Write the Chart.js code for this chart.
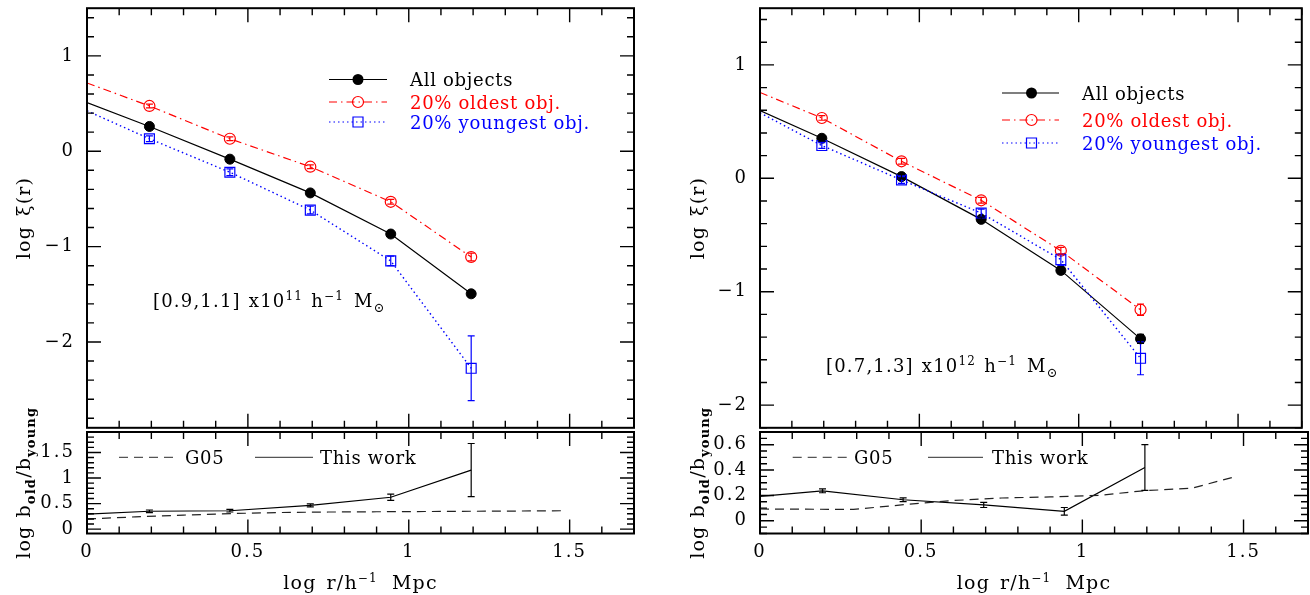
<!DOCTYPE html>
<html>
<head>
<meta charset="utf-8">
<script src="https://cdn.jsdelivr.net/npm/chart.js@4.4.0/dist/chart.umd.min.js"></script>
<style>
  body { margin: 0; background: #fff; width: 1310px; height: 595px; overflow: hidden; position: relative; }
  canvas { position: absolute; }
</style>
</head>
<body>
<canvas id="ul" width="655" height="436" style="left:0;top:0"></canvas>
<canvas id="ur" width="655" height="436" style="left:655px;top:0"></canvas>
<canvas id="ll" width="655" height="195" style="left:0;top:400px"></canvas>
<canvas id="lr" width="655" height="195" style="left:655px;top:400px"></canvas>
<script>
// radial bins (log r), first entry is where the curves start at the axis
const rBins = [0, 0.194, 0.444, 0.694, 0.944, 1.194];

// left panel: [0.9,1.1] x10^11
const leftAll = [0.51, 0.26, -0.083, -0.437, -0.868, -1.495];
const leftAllErr = [0, 0.01, 0.015, 0.02, 0.02, 0.03];
const leftOld = [0.716, 0.475, 0.131, -0.162, -0.53, -1.109];
const leftOldErr = [0, 0.02, 0.02, 0.02, 0.025, 0.04];
const leftYoung = [0.424, 0.131, -0.22, -0.617, -1.15, -2.276];
const leftYoungErr = [0, 0.03, 0.035, 0.04, 0.05, 0.34];
const leftRatio = [0.295, 0.35, 0.36, 0.466, 0.624, 1.155];
const leftRatioErr = [0, 0.025, 0.025, 0.03, 0.06, 0.52];
const leftG05R = [0, 0.15, 0.3, 0.45, 0.6, 0.75, 0.9, 1.05, 1.2, 1.35, 1.48];
const leftG05 = [0.2, 0.24, 0.275, 0.305, 0.325, 0.335, 0.34, 0.345, 0.35, 0.355, 0.36];

// right panel: [0.7,1.3] x10^12
const rightAll = [0.598, 0.353, 0.015, -0.362, -0.812, -1.416];
const rightAllErr = [0, 0.02, 0.02, 0.02, 0.03, 0.04];
const rightOld = [0.757, 0.532, 0.15, -0.194, -0.639, -1.159];
const rightOldErr = [0, 0.02, 0.025, 0.025, 0.03, 0.05];
const rightYoung = [0.578, 0.289, -0.015, -0.306, -0.717, -1.587];
const rightYoungErr = [0, 0.025, 0.03, 0.035, 0.05, 0.145];
const rightRatio = [0.192, 0.236, 0.166, 0.125, 0.075, 0.42];
const rightRatioErr = [0, 0.015, 0.015, 0.02, 0.03, 0.18];
const rightG05R = [0, 0.29, 0.45, 0.6, 0.75, 0.9, 1.05, 1.19, 1.34, 1.47];
const rightG05 = [0.093, 0.09, 0.128, 0.16, 0.18, 0.188, 0.2, 0.237, 0.257, 0.345];

// tick labels
const xLabels = [0, 0.5, 1, 1.5];
const upperYLabels = [-2, -1, 0, 1];
const leftRatioLabels = [0, 0.5, 1, 1.5];
const rightRatioLabels = [0, 0.2, 0.4, 0.6];

const FONT = "'DejaVu Serif', serif";
const RED = '#ff0000', BLUE = '#0000ff';
const DASHDOT = [8, 4, 1.5, 4], DOTTED = [1.5, 3], DASHED = [9, 6];

function pts(xs, ys) { return xs.map((x, i) => ({ x: x, y: ys[i] })); }
function markR(r) { return c => (c.dataIndex === 0 ? 0 : r); }
function fmt(v) { return v < 0 ? '\u2212' + Math.abs(v) : String(v); }

function fontOf(p) { return (p.bold ? 'bold ' : '') + (p.size || 18) + 'px ' + FONT; }
function partsWidth(ctx, parts) {
  let w = 0;
  parts.forEach(p => {
    if (p.gap) { w += p.gap; return; }
    ctx.font = fontOf(p);
    w += ctx.measureText(p.t).width;
  });
  return w;
}
// draws text made of pieces (for super/subscripts); y is the visual middle of the main text
function drawParts(ctx, parts, x, y, opt) {
  opt = opt || {};
  ctx.save();
  ctx.letterSpacing = (opt.spacing || 0.7) + 'px';
  ctx.translate(x, y);
  if (opt.rotate) ctx.rotate(opt.rotate);
  let cx = opt.center ? -partsWidth(ctx, parts) / 2 : 0;
  ctx.textAlign = 'left';
  ctx.textBaseline = 'alphabetic';
  ctx.fillStyle = opt.color || '#000';
  parts.forEach(p => {
    if (p.gap) { cx += p.gap; return; }
    ctx.font = fontOf(p);
    ctx.fillText(p.t, cx, 6.5 + (p.dy || 0));
    cx += ctx.measureText(p.t).width;
  });
  ctx.restore();
}

function tickVals(min, max, step) {
  const out = [];
  for (let k = Math.ceil(min / step - 1e-6); k * step <= max + 1e-9; k++) out.push(+(k * step).toFixed(6));
  return out;
}
function isMajor(v, major) { return Math.abs(v / major - Math.round(v / major)) < 1e-6; }

function drawMarker(ctx, type, x, y, color) {
  ctx.save();
  ctx.setLineDash([]);
  ctx.strokeStyle = color; ctx.fillStyle = color; ctx.lineWidth = 1.2;
  ctx.beginPath();
  if (type === 'dot') { ctx.arc(x, y, 5.5, 0, Math.PI * 2); ctx.fill(); }
  else if (type === 'circle') { ctx.arc(x, y, 5.5, 0, Math.PI * 2); ctx.stroke(); }
  else if (type === 'square') { ctx.rect(x - 5, y - 5, 10, 10); ctx.stroke(); }
  ctx.restore();
}

function noPad(s) { s.paddingTop = 0; s.paddingBottom = 0; s.paddingLeft = 0; s.paddingRight = 0; }

const framePlugin = {
  id: 'frame',
  beforeDraw(chart) { chart.ctx.letterSpacing = '2px'; },
  afterDatasetsDraw(chart) {
    const { ctx, chartArea: a, scales: { x, y } } = chart;
    ctx.save();
    ctx.beginPath(); ctx.rect(a.left, a.top, a.width, a.height); ctx.clip();
    ctx.setLineDash([]);
    chart.data.datasets.forEach(ds => {
      if (!ds.errors) return;
      ctx.strokeStyle = ds.borderColor; ctx.lineWidth = 1.2;
      ds.data.forEach((p, i) => {
        const e = ds.errors[i];
        if (!e) return;
        const px = x.getPixelForValue(p.x);
        const y1 = y.getPixelForValue(p.y - e), y2 = y.getPixelForValue(p.y + e);
        ctx.beginPath();
        ctx.moveTo(px, y1); ctx.lineTo(px, y2);
        ctx.moveTo(px - 3.5, y1); ctx.lineTo(px + 3.5, y1);
        ctx.moveTo(px - 3.5, y2); ctx.lineTo(px + 3.5, y2);
        ctx.stroke();
      });
    });
    ctx.restore();
  },
  afterDraw(chart, args, o) {
    const { ctx, chartArea: a, scales: { x, y } } = chart;
    ctx.letterSpacing = '0px';
    ctx.save();
    ctx.strokeStyle = '#000';
    ctx.lineWidth = 1.4;
    ctx.beginPath();
    tickVals(x.min, x.max, o.xMinor).forEach(v => {
      const len = isMajor(v, o.xMajor) ? 14 : 7;
      const px = x.getPixelForValue(v);
      ctx.moveTo(px, a.top); ctx.lineTo(px, a.top + len);
      ctx.moveTo(px, a.bottom); ctx.lineTo(px, a.bottom - len);
    });
    tickVals(y.min, y.max, o.yMinor).forEach(v => {
      const len = isMajor(v, o.yMajor) ? 14 : 7;
      const py = y.getPixelForValue(v);
      ctx.moveTo(a.left, py); ctx.lineTo(a.left + len, py);
      ctx.moveTo(a.right, py); ctx.lineTo(a.right - len, py);
    });
    ctx.stroke();
    ctx.lineWidth = 2;
    ctx.strokeRect(a.left, a.top, a.right - a.left, a.bottom - a.top);

    // legend rows
    (o.legend || []).forEach(it => {
      ctx.save();
      ctx.strokeStyle = it.lineColor || it.color;
      ctx.lineWidth = 1.2;
      ctx.setLineDash(it.dash || []);
      ctx.beginPath(); ctx.moveTo(it.x1, it.y); ctx.lineTo(it.x2, it.y); ctx.stroke();
      ctx.restore();
      if (it.marker) drawMarker(ctx, it.marker, it.mx, it.y, it.color);
      drawParts(ctx, [{ t: it.text }], it.tx, it.y, { color: it.color });
    });
    // free texts
    (o.texts || []).forEach(t => drawParts(ctx, t.parts, t.x, t.y, { color: '#000', spacing: 1.2 }));
    // axis titles
    if (o.yTitle) drawParts(ctx, o.yTitle, o.yTitleX, (a.top + a.bottom) / 2, { rotate: -Math.PI / 2, center: true, spacing: 1.2 });
    if (o.xTitle) drawParts(ctx, o.xTitle, (a.left + a.right) / 2, o.xTitleY, { center: true, spacing: 1.2 });
    ctx.restore();
  }
};

function makeChart(id, cfg) {
  return new Chart(document.getElementById(id), {
    type: 'scatter',
    data: { datasets: cfg.datasets },
    options: {
      responsive: false,
      animation: false,
      events: [],
      layout: { padding: cfg.padding },
      plugins: { legend: { display: false }, tooltip: { enabled: false }, frame: cfg.frame },
      scales: {
        x: {
          type: 'linear', min: 0, max: 1.7, display: cfg.showX,
          afterBuildTicks: s => { s.ticks = xLabels.map(v => ({ value: v })); },
          afterFit: s => { s.height = cfg.xHeight; noPad(s); },
          grid: { display: false, drawTicks: false }, border: { display: false },
          ticks: { padding: 8.5, color: '#000', font: { family: FONT, size: 18 }, callback: fmt, maxRotation: 0, autoSkip: false }
        },
        y: {
          type: 'linear', min: cfg.yMin, max: cfg.yMax,
          afterBuildTicks: s => { s.ticks = cfg.yLabels.map(v => ({ value: v })); },
          afterFit: s => { s.width = cfg.yWidth; noPad(s); },
          grid: { display: false, drawTicks: false }, border: { display: false },
          ticks: { padding: 12, color: '#000', font: { family: FONT, size: 18 }, callback: fmt, autoSkip: false }
        }
      }
    },
    plugins: [framePlugin]
  });
}

function upperSets(all, allE, old, oldE, young, youngE) {
  return [
    { data: pts(rBins, young), errors: youngE, showLine: true, borderColor: BLUE, borderWidth: 1.4, borderDash: DOTTED,
      pointStyle: 'rect', pointRadius: markR(7), pointBackgroundColor: 'rgba(0,0,0,0)', pointBorderColor: BLUE, pointBorderWidth: 1.2 },
    { data: pts(rBins, old), errors: oldE, showLine: true, borderColor: RED, borderWidth: 1.2, borderDash: DASHDOT,
      pointStyle: 'circle', pointRadius: markR(5.5), pointBackgroundColor: 'rgba(0,0,0,0)', pointBorderColor: RED, pointBorderWidth: 1.2 },
    { data: pts(rBins, all), errors: allE, showLine: true, borderColor: '#000', borderWidth: 1.2,
      pointStyle: 'circle', pointRadius: markR(5), pointBackgroundColor: '#000', pointBorderColor: '#000', pointBorderWidth: 1 }
  ];
}
function lowerSets(ratio, ratioE, g05r, g05) {
  return [
    { data: pts(g05r, g05), showLine: true, borderColor: '#222', borderWidth: 1.2, borderDash: DASHED, pointRadius: 0 },
    { data: pts(rBins, ratio), errors: ratioE, showLine: true, borderColor: '#000', borderWidth: 1.2, pointRadius: 0 }
  ];
}
function upperLegend(x1, x2, mx, tx, ys) {
  return [
    { x1: x1, x2: x2, mx: mx, tx: tx, y: ys[0], text: 'All objects', color: '#000', marker: 'dot' },
    { x1: x1, x2: x2, mx: mx, tx: tx, y: ys[1], text: '20% oldest obj.', color: RED, marker: 'circle', dash: DASHDOT },
    { x1: x1, x2: x2, mx: mx, tx: tx, y: ys[2], text: '20% youngest obj.', color: BLUE, marker: 'square', dash: DOTTED }
  ];
}
function lowerLegend(d1, d2, gx, s1, s2, wx, y) {
  return [
    { x1: d1, x2: d2, tx: gx, y: y, text: 'G05', color: '#000', lineColor: '#555', dash: DASHED },
    { x1: s1, x2: s2, tx: wx, y: y, text: 'This work', color: '#000', lineColor: '#555' }
  ];
}
function massText(range, exp) {
  return [{ t: range }, { gap: 8 }, { t: 'x10' }, { t: exp, size: 12, dy: -7 }, { gap: 8 },
          { t: 'h' }, { t: '\u22121', size: 12, dy: -7 }, { gap: 10 }, { t: 'M' }, { t: '\u2299', size: 13, dy: 5 }];
}
const xiTitle = [{ t: 'log', size: 19 }, { gap: 10 }, { t: '\u03be(r)', size: 19 }];
const biasTitle = [{ t: 'log', size: 19 }, { gap: 8 }, { t: 'b', size: 19 }, { t: 'old', size: 13, bold: true, dy: 5 }, { t: '/b', size: 19 },
                   { t: 'young', size: 13, bold: true, dy: 5 }];
const rTitle = [{ t: 'log', size: 19 }, { gap: 10 }, { t: 'r/h', size: 19 }, { t: '\u22121', size: 12, dy: -7 }, { gap: 14 }, { t: 'Mpc', size: 19 }];

makeChart('ul', {
  datasets: upperSets(leftAll, leftAllErr, leftOld, leftOldErr, leftYoung, leftYoungErr),
  padding: { top: 6, right: 21, bottom: 4, left: 0 },
  showX: false, xHeight: 0, yWidth: 87, yMin: -2.9, yMax: 1.5, yLabels: upperYLabels,
  frame: { xMinor: 0.1, xMajor: 0.5, yMinor: 0.2, yMajor: 1,
    legend: upperLegend(329, 387, 358, 410, [79.5, 102, 122]),
    texts: [{ x: 153, y: 300, parts: massText('[0.9,1.1]', '11') }],
    yTitle: xiTitle, yTitleX: 23 }
});
makeChart('ur', {
  datasets: upperSets(rightAll, rightAllErr, rightOld, rightOldErr, rightYoung, rightYoungErr),
  padding: { top: 6, right: 2, bottom: 4, left: 0 },
  showX: false, xHeight: 0, yWidth: 105, yMin: -2.2, yMax: 1.5, yLabels: upperYLabels,
  frame: { xMinor: 0.1, xMajor: 0.5, yMinor: 0.2, yMajor: 1,
    legend: upperLegend(347, 404, 376.5, 427, [93, 120, 143]),
    texts: [{ x: 171, y: 365, parts: massText('[0.7,1.3]', '12') }],
    yTitle: xiTitle, yTitleX: 42 }
});
makeChart('ll', {
  datasets: lowerSets(leftRatio, leftRatioErr, leftG05R, leftG05),
  padding: { top: 32, right: 21, bottom: 0, left: 0 },
  showX: true, xHeight: 61.5, yWidth: 87, yMin: -0.085, yMax: 1.9, yLabels: leftRatioLabels,
  frame: { xMinor: 0.1, xMajor: 0.5, yMinor: 0.1, yMajor: 0.5,
    legend: lowerLegend(119, 177, 185, 255, 313, 320, 57.3),
    yTitle: biasTitle, yTitleX: 23, xTitle: rTitle, xTitleY: 182 }
});
makeChart('lr', {
  datasets: lowerSets(rightRatio, rightRatioErr, rightG05R, rightG05),
  padding: { top: 32, right: 2, bottom: 0, left: 0 },
  showX: true, xHeight: 61.5, yWidth: 105, yMin: -0.1, yMax: 0.7, yLabels: rightRatioLabels,
  frame: { xMinor: 0.1, xMajor: 0.5, yMinor: 0.05, yMajor: 0.2,
    legend: lowerLegend(137.7, 191.7, 199, 273, 328, 337, 57.3),
    yTitle: biasTitle, yTitleX: 42, xTitle: rTitle, xTitleY: 182 }
});
</script>
</body>
</html>
